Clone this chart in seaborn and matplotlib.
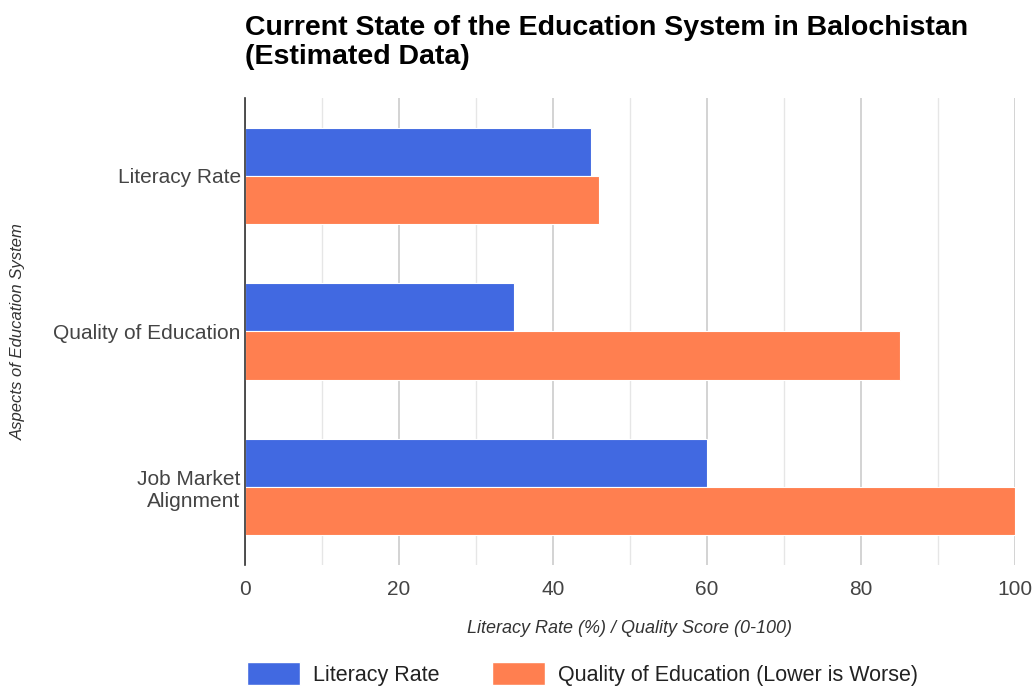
import matplotlib.pyplot as plt
import matplotlib
import pandas as pd
import seaborn as sns
from matplotlib.ticker import MultipleLocator

sns.set_style('white')
matplotlib.rcParams['font.family'] = ['Liberation Sans', 'DejaVu Sans']

# data
aspects = ['Literacy Rate', 'Quality of Education', 'Job Market\nAlignment']
literacy = [45, 35, 60]
quality = [46, 85, 100]
series = ['Literacy Rate', 'Quality of Education (Lower is Worse)']
colors = ['#4169E1', '#FF7F50']

df = pd.DataFrame({
    'aspect': aspects * 2,
    'value': literacy + quality,
    'series': [series[0]] * 3 + [series[1]] * 3,
})

fig = plt.figure(figsize=(10.33, 6.88), dpi=100)
ax = fig.add_axes([0.237, 0.179, 0.7457, 0.6786])

sns.barplot(data=df, y='aspect', x='value', hue='series', orient='h',
            palette=colors, width=0.62, edgecolor='white', linewidth=0.8,
            saturation=1, ax=ax, legend=False)

ax.set_xlim(0, 100)
ax.set_ylim(2.5, -0.5)
ax.xaxis.set_major_locator(MultipleLocator(20))
ax.xaxis.set_minor_locator(MultipleLocator(10))
ax.grid(which='major', axis='x', color='#cccccc', linewidth=1.2)
ax.grid(which='minor', axis='x', color='#e6e6e6', linewidth=1.0)
ax.set_axisbelow(True)
for s in ['top', 'right', 'bottom']:
    ax.spines[s].set_visible(False)
ax.spines['left'].set_color('#333333')
ax.spines['left'].set_linewidth(1.2)
ax.tick_params(axis='both', length=0, labelsize=15, labelcolor='#444444')
ax.tick_params(axis='x', pad=11)
ax.tick_params(axis='y', pad=3)
for lab in ax.get_yticklabels():
    lab.set_horizontalalignment('right')
    lab.set_multialignment('right')

ax.set_xlabel('Literacy Rate (%) / Quality Score (0-100)', fontsize=13,
              style='italic', color='#333333', labelpad=15)
ax.set_ylabel('Aspects of Education System', fontsize=12, style='italic',
              color='#333333', labelpad=20)

fig.text(0.237, 0.898, 'Current State of the Education System in Balochistan\n(Estimated Data)',
         fontsize=20.5, fontweight='bold', color='#000000', ha='left', va='bottom',
         linespacing=1.15)

handles = [matplotlib.patches.Patch(facecolor=c) for c in colors]
fig.legend(handles, series, loc='lower left', bbox_to_anchor=(0.22, -0.025), ncol=2,
           frameon=False, fontsize=15.5, handlelength=2.5, handleheight=1.3,
           columnspacing=2.4, handletextpad=0.6, labelcolor='#222222')

fig.savefig('out.png', dpi=100)
